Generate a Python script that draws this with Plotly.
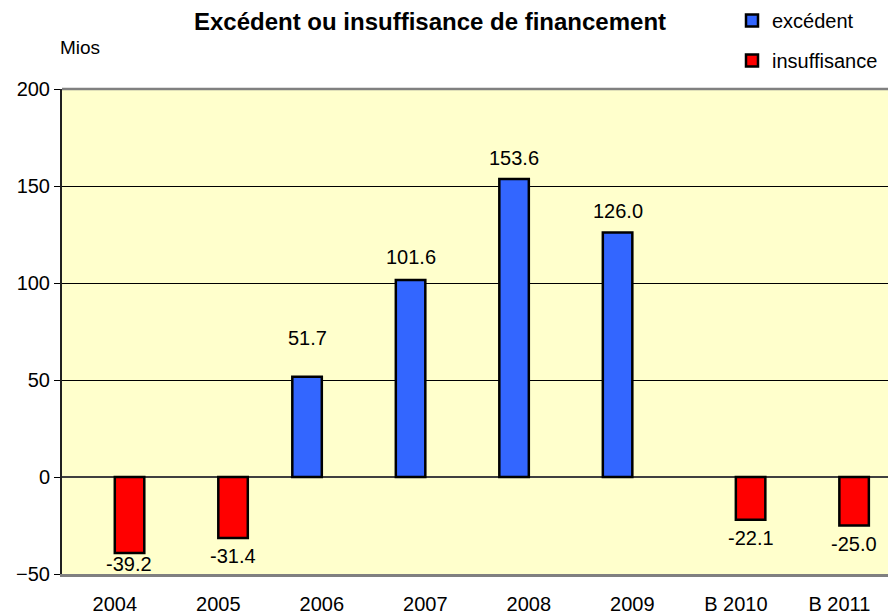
import plotly.graph_objects as go

# ---- data ----
categories = ["2004", "2005", "2006", "2007", "2008", "2009", "B 2010", "B 2011"]
excedent = [None, None, 51.7, 101.6, 153.6, 126.0, None, None]
insuffisance = [-39.2, -31.4, None, None, None, None, -22.1, -25.0]
y_ticks = [-50, 0, 50, 100, 150, 200]

# ---- style ----
FONT = "Liberation Sans, Arial, sans-serif"
BLUE = "#3366FF"
RED = "#FF0000"
BG = "#FFFFCC"
# vertical offset (px) of each data label from the bar end (label centre)
label_shift = {"51.7": 39, "101.6": 23, "153.6": 21, "126.0": 22,
               "-39.2": -11, "-31.4": -18, "-22.1": -18, "-25.0": -18}
bar_half = 14.7  # px offset of each bar centre from the category centre

fig = go.Figure()
fig.add_trace(go.Bar(
    x=categories, y=excedent, name="excédent",
    marker=dict(color=BLUE, line=dict(color="black", width=2.5)),
    legendgroup="a", hoverinfo="x+y",
))
fig.add_trace(go.Bar(
    x=categories, y=insuffisance, name="insuffisance",
    marker=dict(color=RED, line=dict(color="black", width=2.5)),
    legendgroup="b", hoverinfo="x+y",
))

annotations = []
for series, sign in ((excedent, -1), (insuffisance, 1)):
    for i, v in enumerate(series):
        if v is None:
            continue
        txt = f"{v:.1f}"
        annotations.append(dict(
            x=i, y=v, xref="x", yref="y", text=txt, showarrow=False,
            xanchor="center", yanchor="middle",
            xshift=sign * bar_half, yshift=label_shift[txt],
            font=dict(family=FONT, size=20, color="black"),
        ))

annotations.append(dict(
    x=(80 - 62) / 826, y=1 + (89 - 47) / 485, xref="paper", yref="paper",
    text="Mios", showarrow=False, xanchor="center", yanchor="middle",
    font=dict(family=FONT, size=19, color="black"),
))

fig.update_layout(
    width=888, height=616,
    margin=dict(l=62, r=0, t=89, b=42, autoexpand=False),
    paper_bgcolor="white", plot_bgcolor=BG,
    font=dict(family=FONT, size=20, color="black"),
    title=dict(text="<b>Excédent ou insuffisance de financement</b>",
               x=430 / 888, xref="container", xanchor="center",
               y=1 - 22 / 616, yref="container", yanchor="middle",
               font=dict(family=FONT, size=24, color="black")),
    barmode="group", bargap=0.43, bargroupgap=0,
    showlegend=True,
    legend=dict(x=(772 - 40 - 62) / 826, xanchor="left",
                y=1 + (89 - 1) / 485, yanchor="top",
                bgcolor="rgba(0,0,0,0)", font=dict(family=FONT, size=20),
                tracegroupgap=11, itemwidth=30),
    annotations=annotations,
    shapes=[dict(type="line", xref="paper", yref="y domain",
                 x0=0, x1=1, y0=1, y1=1,
                 line=dict(color="#808080", width=2.5), layer="above")],
)

fig.update_xaxes(
    type="category", range=[-0.51, 7.47],
    showgrid=False, zeroline=False,
    showline=True, linecolor="#808080", linewidth=2.5,
    ticks="", ticklabelstandoff=10,
    tickfont=dict(family=FONT, size=20),
)
fig.update_yaxes(
    range=[-50, 200], tickvals=y_ticks,
    showgrid=True, gridcolor="black", gridwidth=1,
    zeroline=True, zerolinecolor="#404040", zerolinewidth=1.5,
    showline=True, linecolor="#202020", linewidth=2,
    ticks="outside", ticklen=6, tickcolor="black", tickwidth=1,
    tickfont=dict(family=FONT, size=20),
)

fig.write_html("out.html",
               config={"displayModeBar": False},
               post_script="document.body.style.margin='0';"
                           "document.body.style.overflow='hidden';")
